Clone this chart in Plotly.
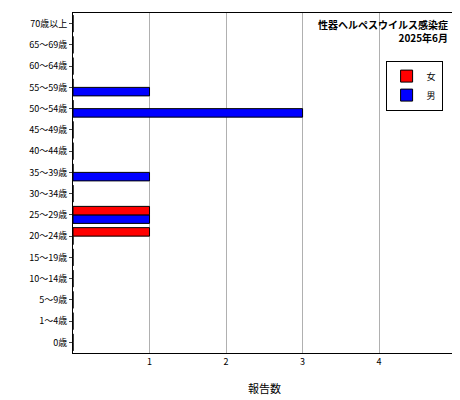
import plotly.graph_objects as go

ages = ['0歳', '1～4歳', '5～9歳', '10～14歳', '15～19歳', '20～24歳', '25～29歳',
        '30～34歳', '35～39歳', '40～44歳', '45～49歳', '50～54歳', '55～59歳',
        '60～64歳', '65～69歳', '70歳以上']
female = [0, 0, 0, 0, 0, 1, 1, 0, 0, 0, 0, 0, 0, 0, 0, 0]
male = [0, 0, 0, 0, 0, 0, 1, 0, 1, 0, 0, 3, 1, 0, 0, 0]

font = 'Noto Sans CJK JP'

fig = go.Figure()
# male first so that female sits above it in each group
fig.add_trace(go.Bar(y=ages, x=male, name='男', orientation='h',
                     marker=dict(color='#0000ff', line=dict(color='black', width=1))))
fig.add_trace(go.Bar(y=ages, x=female, name='女', orientation='h',
                     marker=dict(color='#ff0000', line=dict(color='black', width=1))))

fig.update_layout(
    width=460, height=400,
    margin=dict(l=65, r=12, t=5, b=55),
    paper_bgcolor='white', plot_bgcolor='white',
    font=dict(family=font, size=9, color='black'),
    barmode='group', bargap=0.2, bargroupgap=0,
    showlegend=True,
    legend=dict(x=0.965, y=0.86, xanchor='right', yanchor='top',
                traceorder='reversed', bordercolor='black', borderwidth=1,
                bgcolor='white', font=dict(size=9), tracegroupgap=0,
                itemwidth=30),
    xaxis=dict(range=[0, 5.005], tickvals=[1, 2, 3, 4, 5],
               showgrid=True, gridcolor='#b0b0b0', gridwidth=1,
               showline=True, linecolor='black', mirror=True, ticks='',
               zeroline=False,
               title=dict(text='報告数', font=dict(size=11), standoff=18)),
    yaxis=dict(categoryorder='array', categoryarray=ages,
               showline=True, linecolor='black', mirror=True,
               ticks='outside', ticklen=3, showgrid=False),
    annotations=[dict(text='<b>性器ヘルペスウイルス感染症<br>2025年6月</b>',
                      xref='paper', yref='paper', x=0.985, y=0.995,
                      xanchor='right', yanchor='top', align='right',
                      showarrow=False, font=dict(size=10))],
)

fig.write_html('out.html')
